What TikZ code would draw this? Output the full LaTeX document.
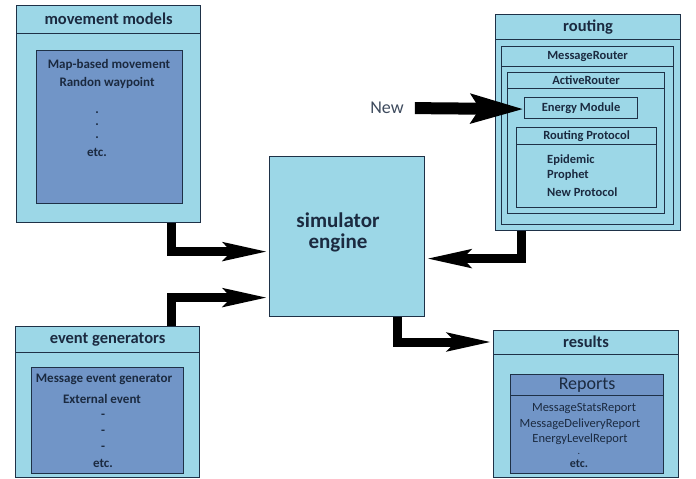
\documentclass[tikz,border=0pt]{standalone}
\usepackage{fontspec}
\setmainfont{Carlito}
\usetikzlibrary{positioning,arrows.meta,calc}

\definecolor{boxblue}{HTML}{9CD7E7}
\definecolor{innerblue}{HTML}{7195C7}
\definecolor{edgecol}{HTML}{1E3147}
\definecolor{txtcol}{HTML}{1B2A40}

\tikzset{
  outerbox/.style={draw=edgecol, fill=boxblue, line width=1.2pt, inner sep=0pt, anchor=north west},
  innerbox/.style={outerbox, fill=innerblue},
  header/.style={anchor=north, inner sep=0pt, text=txtcol, font=\bfseries\fontsize{16.5}{18}\selectfont},
  subheader/.style={anchor=north, inner sep=0pt, text=txtcol, font=\bfseries\fontsize{12.5}{14}\selectfont},
  item/.style={inner sep=0pt, text=txtcol, font=\bfseries\fontsize{13}{15}\selectfont},
  report/.style={inner sep=0pt, text=txtcol, font=\fontsize{12.5}{14}\selectfont},
  sepline/.style={draw=edgecol, line width=1.2pt},
  conn/.style={line width=9pt, -{Stealth[length=44pt, width=17pt, inset=7pt]}},
  newconn/.style={line width=12pt, -{Stealth[length=52pt, width=28pt, inset=8pt]}}
}

\begin{document}
\begin{tikzpicture}[x=1pt, y=-1pt]

\useasboundingbox (0,0) rectangle (696,479);

% movement models
\node[outerbox, minimum width=184pt, minimum height=217pt] (mm) at (16,5) {};
\node[header, minimum height=28pt] (mmT) at (mm.north) {movement models};
\draw[sepline] (mmT.south -| mm.west) -- (mmT.south -| mm.east);
\node[innerbox, minimum width=146pt, minimum height=153pt] (mmIn) at (36,50) {};
\node[item] (mapmove) at (109,65) {Map-based movement};
\node[item] (randwp) at (107,83) {Randon waypoint};
\foreach \k/\y in {1/113,2/125,3/138} {
  \node[item] (mmDot\k) at (97,\y) {.};
}
\node[item] (mmEtc) at (97,152) {etc.};

% event generators
\node[outerbox, minimum width=184pt, minimum height=151pt] (ev) at (15,326) {};
\node[header, minimum height=26pt] (evT) at (ev.north) {event generators};
\draw[sepline] (evT.south -| ev.west) -- (evT.south -| ev.east);
\node[innerbox, minimum width=152pt, minimum height=106pt] (evIn) at (31,367) {};
\node[item] (msgev) at (104,379) {Message event generator};
\node[item] (extev) at (102,399) {External event};
\foreach \k/\y in {1/416,2/432,3/448} {
  \node[item] (evDot\k) at (103,\y) {-};
}
\node[item] (evEtc) at (103,463) {etc.};

% simulator engine
\node[outerbox, minimum width=155pt, minimum height=160pt] (eng) at (269,156) {};
\node[inner sep=0pt, text=txtcol, align=center, font=\bfseries\fontsize{21}{21}\selectfont]
  (engT) at (338,232) {simulator\\engine};

% routing
\node[outerbox, minimum width=185pt, minimum height=216pt] (rt) at (495,14) {};
\node[header, minimum height=25pt] (rtT) at (rt.north) {routing};
\draw[sepline] (rtT.south -| rt.west) -- (rtT.south -| rt.east);
\node[outerbox, minimum width=172pt, minimum height=178pt] (msgr) at (501,46) {};
\node[subheader, minimum height=20pt] (msgrT) at (msgr.north) {MessageRouter};
\draw[sepline] (msgrT.south -| msgr.west) -- (msgrT.south -| msgr.east);
\node[outerbox, minimum width=157pt, minimum height=141pt] (act) at (507,72) {};
\node[subheader, minimum height=16pt] (actT) at (act.north) {ActiveRouter};
\draw[sepline] (actT.south -| act.west) -- (actT.south -| act.east);
\node[subheader, outerbox, minimum width=113pt, minimum height=21pt] (enm) at (524,97) {Energy Module};
\node[outerbox, minimum width=140pt, minimum height=80pt] (rp) at (516,127) {};
\node[subheader, minimum height=17pt] (rpT) at (rp.north) {Routing Protocol};
\draw[sepline] (rpT.south -| rp.west) -- (rpT.south -| rp.east);
\foreach \name/\txt/\y in {epi/Epidemic/160, pro/Prophet/175, newp/New Protocol/192} {
  \node[item, font=\bfseries\fontsize{12.5}{14}\selectfont, anchor=west] (\name) at (547,\y) {\txt};
}

% results
\node[outerbox, minimum width=185pt, minimum height=147pt] (rs) at (493,330) {};
\node[header, minimum height=24pt] (rsT) at (rs.north) {results};
\draw[sepline] (rsT.south -| rs.west) -- (rsT.south -| rs.east);
\node[innerbox, minimum width=153pt, minimum height=99pt] (rep) at (510,374) {};
\node[report, anchor=north, minimum height=21pt, font=\fontsize{18}{20}\selectfont] (repT) at (rep.north) {Reports};
\draw[sepline] (repT.south -| rep.west) -- (repT.south -| rep.east);
\node[report] (stats) at (584,409) {MessageStatsReport};
\node[report] (deliv) at (580,424) {MessageDeliveryReport};
\node[report] (energy) at (580,439) {EnergyLevelReport};
\node[report, anchor=base, font=\fontsize{10}{10}\selectfont] (repDot) at (579,454) {.};
\node[item, font=\bfseries\fontsize{12}{14}\selectfont] (repEtc) at (579,464) {etc.};

% new module
\node[inner sep=0pt, text=txtcol!85, font=\fontsize{18}{20}\selectfont] (new) at (387,108) {New};

% connectors
\draw[conn] ($(mm.south east)+(-30,0)$) |- ([yshift=-15pt]eng.west);
\draw[conn] ($(ev.north east)+(-29,0)$) |- ([yshift=-61pt]eng.west);
\draw[conn] ($(rt.south west)+(26,0)$) |- ([yshift=-22pt]eng.east);
\draw[conn] ($(eng.south west)+(128,0)$) |- ([yshift=-12pt]rs.north west);
\draw[newconn, shorten <=11pt] (new.east) -- ([yshift=-1pt]enm.west);

\end{tikzpicture}
\end{document}
